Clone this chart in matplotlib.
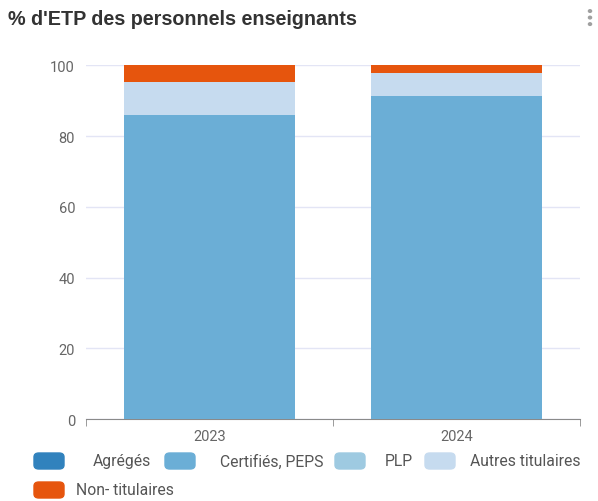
import matplotlib.pyplot as plt
from matplotlib.patches import FancyBboxPatch
import numpy as np

plt.rcParams['font.family'] = ['Roboto', 'DejaVu Sans']

years = ['2023', '2024']
series = ['Agrégés', 'Certifiés, PEPS', 'PLP', 'Autres titulaires', 'Non- titulaires']
agreges = [0.0, 0.0]
certifies = [85.9, 91.4]
plp = [0.0, 0.0]
autres = [9.5, 6.5]
non_titulaires = [4.6, 2.1]
colors = ['#3182bd', '#6baed6', '#9ecae1', '#c6dbef', '#e6550d']

fig = plt.figure(figsize=(5.98, 5.02), dpi=100)
ax = fig.add_axes([0.144, 0.163, 0.826, 0.705])

x = np.arange(len(years))
bottom = np.zeros(len(years))
for vals, c in zip([agreges, certifies, plp, autres, non_titulaires], colors):
    ax.bar(x, vals, width=0.69, bottom=bottom, color=c, zorder=3)
    bottom += np.array(vals)

ax.set_xlim(-0.5, 1.5)
ax.set_ylim(0, 100)
ax.set_yticks([0, 20, 40, 60, 80, 100])
ax.set_xticks(x)
ax.set_xticklabels(years)
ax.set_xticks([-0.5, 0.5, 1.5], minor=True)
ax.grid(axis='y', color='#e3e5f5', linewidth=1, zorder=0)
for s in ['top', 'right', 'left']:
    ax.spines[s].set_visible(False)
ax.spines['bottom'].set_color('#8a8a8a')
ax.tick_params(axis='y', length=0, labelsize=10.5, labelcolor='#666666', pad=8)
ax.tick_params(axis='x', which='major', length=0, labelsize=10.5, labelcolor='#666666', pad=7)
ax.tick_params(axis='x', which='minor', length=5, color='#8a8a8a')

fig.text(0.014, 0.962, "% d'ETP des personnels enseignants", fontsize=14.2, fontweight='bold',
         color='#333333', va='center', ha='left', family=['Liberation Sans', 'DejaVu Sans'])
for yy in [0.976, 0.963, 0.950]:
    fig.patches.append(plt.Circle((590 / 598, yy), 0.0026, transform=fig.transFigure,
                                  color='#a0a0a0'))

# legend
W, H = 598, 502
slots = [(34, 93, 462), (165, 220, 462), (335, 385, 462), (425, 470, 462), (34, 76, 491)]
for (px, tx, py), lab, c in zip(slots, series, colors):
    fig.patches.append(FancyBboxPatch((px / W, (H - py - 8) / H), 30 / W, 16 / H,
                                      boxstyle='round,pad=0,rounding_size=0.008',
                                      transform=fig.transFigure, color=c))
    fig.text(tx / W, (H - py) / H, lab, fontsize=11.3, color='#555555', va='center', ha='left')

fig.savefig('out.png', dpi=100)
